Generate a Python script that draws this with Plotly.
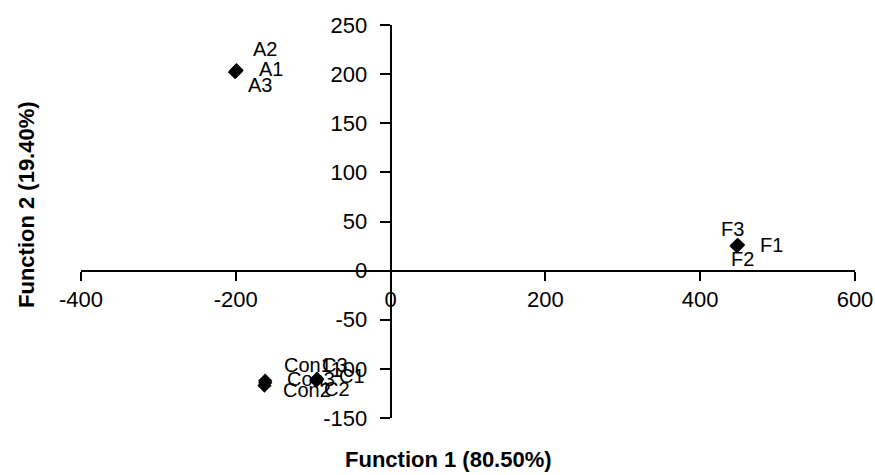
import plotly.graph_objects as go

# Data
labels = ["A1", "A2", "A3", "F1", "F2", "F3", "Con1", "Con2", "Con3", "C1", "C2", "C3"]
func1 = [-200, -199, -201, 448, 447, 449, -162, -163, -162, -95, -96, -95]
func2 = [203, 204, 202, 26, 25, 26, -112, -117, -114, -111, -112, -110]

x_ticks = [-400, -200, 0, 200, 400, 600]
y_ticks = [-150, -100, -50, 0, 50, 100, 150, 200, 250]

# Label offsets (pixels) - styling only
label_shift = {
    "A1": (21, 2), "A2": (14, 21), "A3": (11, -13),
    "F1": (21, 0), "F2": (-8, -13), "F3": (-19, 16),
    "Con1": (17, 16), "Con2": (17, -4), "Con3": (20, 4),
    "C1": (20, 4), "C2": (6, -8), "C3": (3, 14),
}

FONT = "Liberation Sans, Arial, sans-serif"

fig = go.Figure()
fig.add_trace(go.Scatter(
    x=func1, y=func2, mode="markers",
    marker=dict(symbol="diamond", size=11, color="black"),
    showlegend=False, hoverinfo="text", text=labels,
))

annotations = []
for lab, xv, yv in zip(labels, func1, func2):
    dx, dy = label_shift[lab]
    annotations.append(dict(
        x=xv, y=yv, xref="x", yref="y", text=lab, showarrow=False,
        xanchor="left", yanchor="middle", xshift=dx, yshift=dy,
        font=dict(family=FONT, size=20, color="black"),
    ))

annotations.append(dict(
    x=(448 - 81) / 774, y=(418 - 474) / 393, xref="paper", yref="paper",
    text="<b>Function 1 (80.50%)</b>", showarrow=False,
    xanchor="center", yanchor="bottom",
    font=dict(family=FONT, size=22, color="black"),
))
annotations.append(dict(
    x=(26 - 81) / 774, y=(418 - 205) / 393, xref="paper", yref="paper",
    text="<b>Function 2 (19.40%)</b>", showarrow=False, textangle=-90,
    xanchor="center", yanchor="middle",
    font=dict(family=FONT, size=22, color="black"),
))

fig.update_layout(
    width=875, height=475,
    margin=dict(l=81, r=20, t=25, b=57),
    paper_bgcolor="white", plot_bgcolor="white",
    font=dict(family=FONT, size=22, color="black"),
    annotations=annotations,
    xaxis=dict(
        range=[-400, 600], tickvals=x_ticks, ticktext=[str(v) for v in x_ticks],
        showgrid=False, zeroline=False, showline=True, linecolor="black", linewidth=2,
        ticks="outside", ticklen=9, tickwidth=2, tickcolor="black",
        anchor="free", position=0.375, automargin=False,
        tickfont=dict(family=FONT, size=22, color="black"),
    ),
    yaxis=dict(
        range=[-150, 250], tickvals=y_ticks, ticktext=[str(v) for v in y_ticks],
        showgrid=False, zeroline=False, showline=True, linecolor="black", linewidth=2,
        ticks="outside", ticklen=10, tickwidth=2, tickcolor="black",
        anchor="free", position=0.4, automargin=False, ticklabelstandoff=8,
        tickfont=dict(family=FONT, size=22, color="black"),
    ),
)

fig.write_html(
    "out.html",
    config={"displayModeBar": False},
    post_script="document.body.style.margin='0';document.body.style.overflow='hidden';",
)
